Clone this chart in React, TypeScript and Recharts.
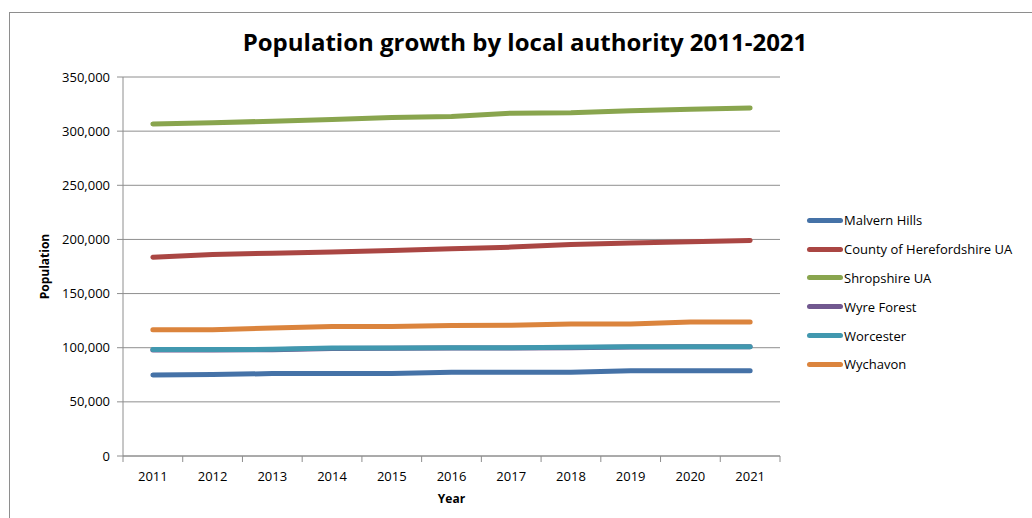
import React from 'react';
import { LineChart, Line, XAxis, YAxis, CartesianGrid, Legend } from 'recharts';

const years = [2011, 2012, 2013, 2014, 2015, 2016, 2017, 2018, 2019, 2020, 2021];
const malvernHills = [74900, 75200, 76100, 76100, 76100, 77300, 77300, 77300, 78800, 78800, 78800];
const herefordshire = [183600, 186100, 187300, 188500, 189800, 191300, 192900, 195400, 196600, 197800, 199100];
const shropshire = [306700, 307700, 309200, 310700, 312600, 313500, 316600, 316900, 318800, 320300, 321300];
const wyreForest = [98000, 98000, 98200, 99200, 99400, 99700, 99800, 100000, 100700, 100800, 100900];
const worcester = [98300, 98300, 98500, 99700, 99700, 99900, 99900, 100500, 100900, 100900, 100900];
const wychavon = [116700, 116700, 118200, 119500, 119500, 120400, 120700, 121900, 121900, 123800, 123800];
const yTicks = [0, 50000, 100000, 150000, 200000, 250000, 300000, 350000];

const seriesDefs = [
  { key: 'malvern', name: 'Malvern Hills', color: '#4572A7', values: malvernHills },
  { key: 'hereford', name: 'County of Herefordshire UA', color: '#AA4643', values: herefordshire },
  { key: 'shrop', name: 'Shropshire UA', color: '#89A54E', values: shropshire },
  { key: 'wyre', name: 'Wyre Forest', color: '#71588F', values: wyreForest },
  { key: 'worc', name: 'Worcester', color: '#4198AF', values: worcester },
  { key: 'wych', name: 'Wychavon', color: '#DB843D', values: wychavon },
];

const data = years.map((y, i) => {
  const row: Record<string, number> = { year: y };
  seriesDefs.forEach((s) => { row[s.key] = s.values[i]; });
  return row;
});

const xTicks: number[] = [];
years.forEach((y) => { xTicks.push(y - 0.5); xTicks.push(y); });
xTicks.push(years[years.length - 1] + 0.5);

const FONT = '"Open Sans", sans-serif';
const GRID = '#8e8e8e';

const XTick = (props: any) => {
  const { x, y, payload } = props;
  const v = payload.value;
  if (Number.isInteger(v)) {
    return (
      <text x={x} y={y + 25} textAnchor="middle" fontFamily={FONT} fontSize={13} fill="#000">
        {String(v)}
      </text>
    );
  }
  return <line x1={x} y1={y} x2={x} y2={y + 6} stroke={GRID} strokeWidth={1} />;
};

const LegendContent = () => (
  <div style={{ fontFamily: FONT, fontSize: 13, color: '#000' }}>
    {seriesDefs.map((s) => (
      <div key={s.key} style={{ display: 'flex', alignItems: 'center', height: 28.8 }}>
        <div style={{ width: 36, height: 5, borderRadius: 3, background: s.color, marginRight: 1 }} />
        <span style={{ whiteSpace: 'nowrap' }}>{s.name}</span>
      </div>
    ))}
  </div>
);

export default function App() {
  return (
    <div style={{ position: 'absolute', left: 0, top: 0, width: 1032, height: 518, overflow: 'hidden', background: '#fff' }}>
      <div style={{ position: 'absolute', left: 9, top: 12, width: 1023, height: 506, borderLeft: `1px solid ${GRID}`, borderTop: `1px solid ${GRID}`, boxSizing: 'border-box' }} />
      <div style={{ position: 'absolute', left: 0, top: 25, width: 1050, textAlign: 'center', fontFamily: FONT, fontWeight: 700, fontSize: 24, color: '#000', whiteSpace: 'nowrap' }}>
        Population growth by local authority 2011-2021
      </div>
      <div style={{ position: 'absolute', left: 0, top: 0 }}>
        <LineChart width={1032} height={518} data={data} margin={{ top: 77, right: 27, bottom: 0, left: 0 }}>
          <CartesianGrid vertical={false} stroke={GRID} strokeWidth={1} />
          <XAxis
            dataKey="year"
            type="number"
            domain={[years[0] - 0.5, years[years.length - 1] + 0.5]}
            ticks={xTicks}
            interval={0}
            tickLine={false}
            tickSize={0}
            tickMargin={0}
            axisLine={{ stroke: GRID }}
            tick={<XTick />}
            height={62}
            label={{ value: 'Year', position: 'insideBottom', offset: 15, fontFamily: FONT, fontWeight: 700, fontSize: 12, fill: '#000' }}
          />
          <YAxis
            type="number"
            domain={[0, 350000]}
            ticks={yTicks}
            interval={0}
            width={123}
            tickSize={6}
            tickMargin={7}
            tickLine={{ stroke: GRID }}
            axisLine={{ stroke: GRID }}
            tick={{ fontFamily: FONT, fontSize: 13, fill: '#000' }}
            tickFormatter={(v: number) => v.toLocaleString('en-US')}
            label={(p: any) => {
              const vb = p.viewBox;
              const cx = vb.x + 44;
              const cy = vb.y + vb.height / 2;
              return (
                <text x={cx} y={cy} transform={`rotate(-90 ${cx} ${cy})`} textAnchor="middle" dominantBaseline="central" fontFamily={FONT} fontWeight={700} fontSize={12} fill="#000">
                  Population
                </text>
              );
            }}
          />
          <Legend
            layout="vertical"
            align="right"
            verticalAlign="top"
            content={<LegendContent />}
            wrapperStyle={{ left: 807, top: 206, width: 225 }}
          />
          {seriesDefs.map((s) => (
            <Line
              key={s.key}
              type="linear"
              dataKey={s.key}
              name={s.name}
              stroke={s.color}
              strokeWidth={5}
              strokeLinecap="round"
              strokeLinejoin="round"
              dot={false}
              activeDot={false}
              isAnimationActive={false}
            />
          ))}
        </LineChart>
      </div>
    </div>
  );
}
